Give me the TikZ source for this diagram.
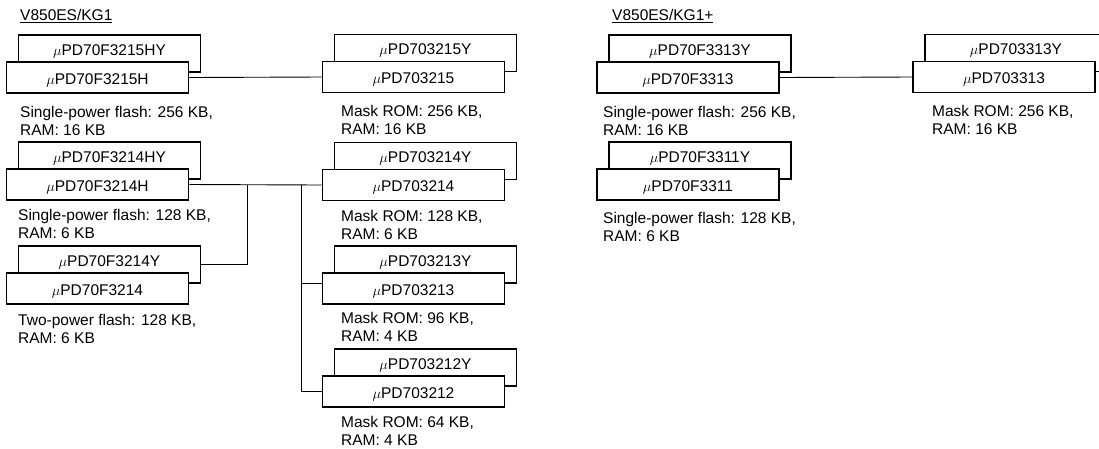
\documentclass[tikz,border=0pt]{standalone}
\usepackage{fontspec}
\setmainfont{Liberation Sans}
\usepackage{tikz}
\usetikzlibrary{positioning}
\newcommand{\uPD}{$\mu$PD}

\begin{document}
\begin{tikzpicture}[x=1pt,y=-1pt,
  every node/.style={font=\fontsize{15.5}{17.5}\selectfont},
  ybox/.style={draw,line width=1.8pt,fill=white,minimum width=182pt,minimum height=37pt,inner ysep=0pt,text height=11pt,text depth=8pt},
  mbox/.style={draw,line width=1.8pt,fill=white,minimum width=182pt,minimum height=31pt,inner ysep=0pt,text height=15pt,text depth=2pt}]
  \useasboundingbox (0,0) rectangle (1099,448);
  \clip (0,0) rectangle (1099,448);

  % titles
  \node[anchor=west,inner sep=0pt] (t1) at (20,16) {\underline{V850ES/KG1}};
  \node[anchor=west,inner sep=0pt] (t2) at (612,16) {\underline{V850ES/KG1+}};

  % flash parts, V850ES/KG1
  \node[ybox] (a1y) at (109.5,53.5) {\uPD70F3215HY};
  \node[mbox] (a1) at (97.5,77.5) {\uPD70F3215H};
  \node[ybox] (a2y) at (109.5,160.5) {\uPD70F3214HY};
  \node[mbox] (a2) at (97.5,184.5) {\uPD70F3214H};
  \node[ybox] (a3y) at (109.5,264.5) {\uPD70F3214Y};
  \node[mbox] (a3) at (97.5,288.5) {\uPD70F3214};

  % mask ROM parts, V850ES/KG1
  \node[ybox] (b1y) at (425.5,53) {\uPD703215Y};
  \node[mbox] (b1) at (413.5,77) {\uPD703215};
  \node[ybox] (b2y) at (425.5,161) {\uPD703214Y};
  \node[mbox] (b2) at (413.5,185) {\uPD703214};
  \node[ybox] (b3y) at (425.5,264.5) {\uPD703213Y};
  \node[mbox] (b3) at (413.5,288.5) {\uPD703213};
  \node[ybox] (b4y) at (425.5,367.5) {\uPD703212Y};
  \node[mbox] (b4) at (413.5,391.5) {\uPD703212};

  % V850ES/KG1+
  \node[ybox] (c1y) at (700,53.5) {\uPD70F3313Y};
  \node[mbox] (c1) at (688,77.5) {\uPD70F3313};
  \node[ybox] (c2y) at (700,160.5) {\uPD70F3311Y};
  \node[mbox] (c2) at (688,184.5) {\uPD70F3311};
  \node[ybox] (d1y) at (1016,53) {\uPD703313Y};
  \node[mbox] (d1) at (1004,77) {\uPD703313};

  % memory notes
  \begin{scope}[every node/.style={align=left,anchor=west,inner sep=0pt,font=\fontsize{15.5}{17.5}\selectfont}]
  \node (na1) at (20,121) {Single-power flash: 256 KB,\\RAM: 16 KB};
  \node (na2) at (18,224) {Single-power flash: 128 KB,\\RAM: 6 KB};
  \node (na3) at (18,329) {Two-power flash: 128 KB,\\RAM: 6 KB};
  \node (nb1) at (341,120) {Mask ROM: 256 KB,\\RAM: 16 KB};
  \node (nb2) at (341,225) {Mask ROM: 128 KB,\\RAM: 6 KB};
  \node (nb3) at (341,327) {Mask ROM: 96 KB,\\RAM: 4 KB};
  \node (nb4) at (341,431) {Mask ROM: 64 KB,\\RAM: 4 KB};
  \node (nc1) at (603,121) {Single-power flash: 256 KB,\\RAM: 16 KB};
  \node (nc2) at (603,227) {Single-power flash: 128 KB,\\RAM: 6 KB};
  \node (nd1) at (932,120) {Mask ROM: 256 KB,\\RAM: 16 KB};
  \end{scope}

  % connections
  \coordinate (j1) at (247,184.5);
  \coordinate (j2) at (301,184.5);
  \begin{scope}[every path/.style={draw=black,line width=0.9pt}]
  \path (a1.east) -- (b1.west);
  \path (a2.east) -- (b2.west);
  \path (j1) |- (a3y.east);
  \path (j2) |- ([yshift=5.5pt]b3.west);
  \path (j2) |- (b4.west);
  \path (c1.east) -- (d1.west);
  \end{scope}
\end{tikzpicture}
\end{document}
